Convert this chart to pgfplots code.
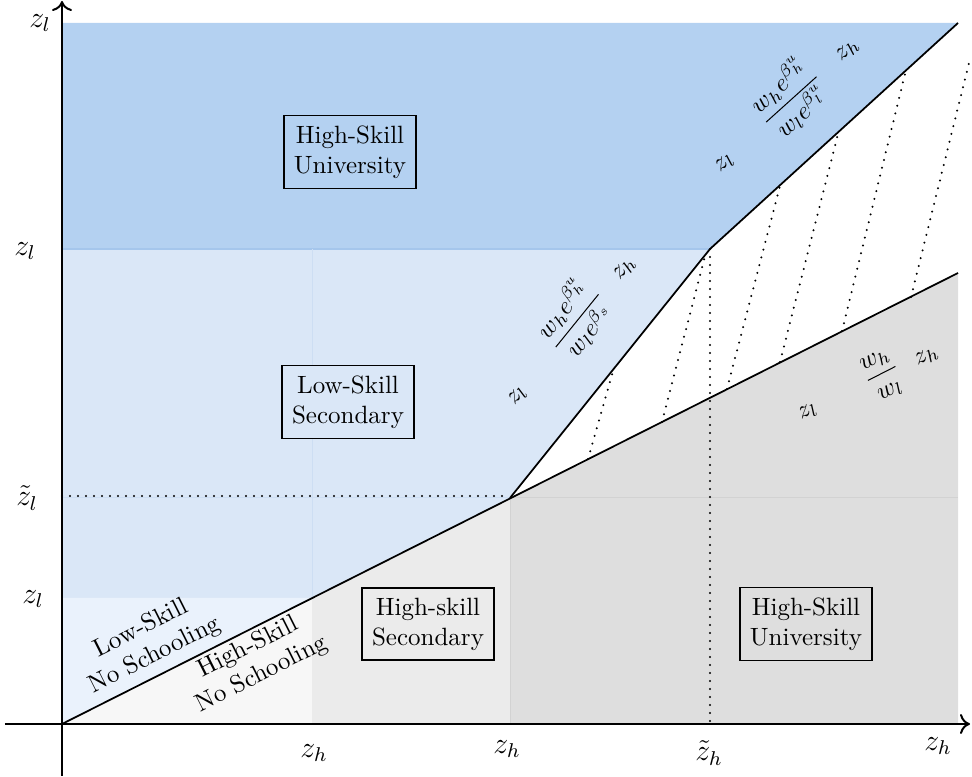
\documentclass[border=0pt]{standalone}
\usepackage{pgfplots}
\pgfplotsset{compat=1.18}
\usetikzlibrary{arrows.meta}
\definecolor{dblue}{RGB}{180,209,241}
\definecolor{dblueedge}{RGB}{165,198,236}
\definecolor{lblue}{RGB}{218,231,247}
\definecolor{lblueedge}{RGB}{205,222,243}
\definecolor{llblue}{RGB}{234,242,252}
\definecolor{g1}{RGB}{247,247,247}
\definecolor{g2}{RGB}{235,235,235}
\definecolor{g3}{RGB}{222,222,222}
\definecolor{gedge}{RGB}{210,210,210}
\tikzset{mydot/.style={line width=0.9pt, line cap=round, dash pattern=on 0pt off 3.2pt}}
\begin{document}
\begin{tikzpicture}
\begin{axis}[
  x=40pt, y=40pt,
  axis lines=middle,
  axis on top,
  xmin=-0.57, xmax=9.08, ymin=-0.52, ymax=7.23,
  xtick=\empty, ytick=\empty,
  axis line style={line width=0.8pt, -{To[length=4pt,width=8pt]}},
  clip=false,
]
\path (axis cs:-0.62,-0.52) rectangle (axis cs:9.1,7.23);
% regions
\addplot[fill=dblue, draw=none] coordinates {(0,4.75) (6.48,4.75) (8.96,7.01) (0,7.01)} -- cycle;
\addplot[fill=lblue, draw=none] coordinates {(0,1.26) (2.5,1.26) (4.48,2.26) (6.48,4.75) (0,4.75)} -- cycle;
\addplot[fill=llblue, draw=none] coordinates {(0,0) (2.5,1.26) (0,1.26)} -- cycle;
\addplot[fill=g1, draw=none] coordinates {(0,0) (2.5,0) (2.5,1.26)} -- cycle;
\addplot[fill=g2, draw=none] coordinates {(2.5,0) (4.48,0) (4.48,2.26) (2.5,1.26)} -- cycle;
\addplot[fill=g3, draw=none] coordinates {(4.48,0) (8.96,0) (8.96,4.51) (4.48,2.26)} -- cycle;
% faint edges
\addplot[dblueedge, line width=0.5pt] coordinates {(0,4.75) (6.48,4.75)};
\addplot[lblueedge, line width=0.4pt] coordinates {(2.5,1.26) (2.5,4.75)};
\addplot[lblueedge, line width=0.4pt] coordinates {(0,2.26) (4.48,2.26)};
\addplot[gedge, line width=0.4pt] coordinates {(4.48,2.26) (8.96,2.26)};
\addplot[gedge, line width=0.4pt] coordinates {(4.48,0) (4.48,2.26)};
% dotted guides
\addplot[mydot] coordinates {(0,2.28) (4.48,2.28)};
\addplot[mydot] coordinates {(6.48,4.75) (6.48,0)};
% hatch lines
\addplot[mydot] coordinates {(5.26,2.65) (5.51,3.53)};
\addplot[mydot] coordinates {(6.00,3.02) (6.43,4.68)};
\addplot[mydot] coordinates {(6.65,3.35) (7.18,5.38)};
\addplot[mydot] coordinates {(7.18,3.62) (7.76,5.90)};
\addplot[mydot] coordinates {(7.80,3.93) (8.43,6.50)};
\addplot[mydot] coordinates {(8.49,4.27) (9.08,6.65)};
% boundaries
\addplot[black, line width=0.7pt] coordinates {(0,0) (8.96,4.51)};
\addplot[black, line width=0.7pt] coordinates {(4.48,2.26) (6.48,4.75) (8.96,7.01)};
% boxes
\node[draw, line width=0.6pt, align=center, inner sep=4pt, fill=dblue] at (axis cs:2.88,5.72) {High-Skill\\University};
\node[draw, line width=0.6pt, align=center, inner sep=4pt, fill=lblue] at (axis cs:2.86,3.22) {Low-Skill\\Secondary};
\node[draw, line width=0.6pt, align=center, inner sep=4pt, fill=g2] at (axis cs:3.66,1.00) {High-skill\\Secondary};
\node[draw, line width=0.6pt, align=center, inner sep=4pt, fill=g3] at (axis cs:7.44,1.00) {High-Skill\\University};
\node[rotate=26.7, align=center] at (axis cs:0.86,0.82) {Low-Skill\\No Schooling};
\node[rotate=26.7, align=center] at (axis cs:1.93,0.63) {High-Skill\\No Schooling};
% slope labels
\node[rotate=51] at (axis cs:4.56,3.28) {$z_l$};
\node[rotate=51] at (axis cs:5.13,4.05) {$\displaystyle\frac{w_h e^{\beta_h^u}}{w_l e^{\beta_s}}$};
\node[rotate=51] at (axis cs:5.63,4.55) {$z_h$};
\node[rotate=42] at (axis cs:6.63,5.61) {$z_l$};
\node[rotate=42] at (axis cs:7.28,6.26) {$\displaystyle\frac{w_h e^{\beta_h^u}}{w_l e^{\beta_l^u}}$};
\node[rotate=42] at (axis cs:7.86,6.73) {$z_h$};
\node[rotate=27] at (axis cs:7.46,3.12) {$z_l$};
\node[rotate=27] at (axis cs:8.21,3.48) {$\displaystyle\frac{w_h}{w_l}$};
\node[rotate=27] at (axis cs:8.65,3.67) {$z_h$};
% axis labels
\node at (axis cs:-0.22,7.01) {\large $z_l$};
\node at (axis cs:-0.37,4.73) {\large $z_l$};
\node at (axis cs:-0.35,2.26) {\large $\tilde{z}_l$};
\node at (axis cs:-0.29,1.25) {\large $z_l$};
\node at (axis cs:2.52,-0.29) {\large $z_h$};
\node at (axis cs:4.45,-0.25) {\large $z_h$};
\node at (axis cs:6.47,-0.29) {\large $\tilde{z}_h$};
\node at (axis cs:8.76,-0.22) {\large $z_h$};
\end{axis}
\end{tikzpicture}
\end{document}
